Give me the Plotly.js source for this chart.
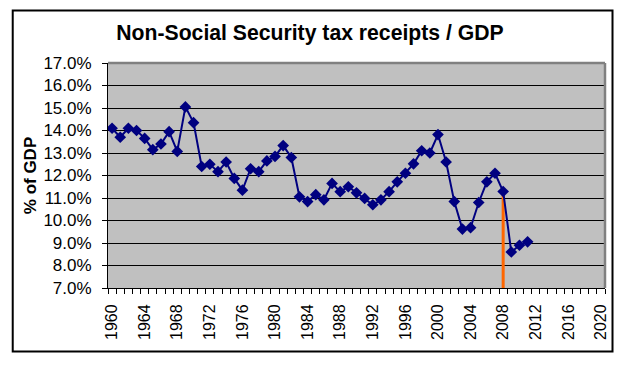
<!DOCTYPE html>
<html>
<head>
<meta charset="utf-8">
<script src="https://cdn.plot.ly/plotly-3.0.1.min.js"></script>
<style>html,body{margin:0;padding:0;background:#fff;}#chart{width:633px;height:365px;}</style>
</head>
<body>
<div id="chart"></div>
<script>
const years = [1960,1961,1962,1963,1964,1965,1966,1967,1968,1969,
  1970,1971,1972,1973,1974,1975,1976,1977,1978,1979,
  1980,1981,1982,1983,1984,1985,1986,1987,1988,1989,
  1990,1991,1992,1993,1994,1995,1996,1997,1998,1999,
  2000,2001,2002,2003,2004,2005,2006,2007,2008,2009,
  2010,2011];
const receiptsPctGDP = [14.1,13.7,14.1,14.0,13.65,13.15,13.4,13.95,13.07,15.05,
  14.35,12.4,12.5,12.17,12.6,11.87,11.35,12.3,12.17,12.65,
  12.85,13.33,12.8,11.05,10.84,11.15,10.92,11.65,11.28,11.5,
  11.23,10.98,10.7,10.92,11.28,11.72,12.1,12.52,13.1,13.0,
  13.82,12.6,10.84,9.62,9.68,10.8,11.72,12.1,11.29,8.6,
  8.9,9.05];
const markerYear = [2008, 2008];
const markerLine = [7.0, 11.29];
const xTickYears = [1960,1964,1968,1972,1976,1980,1984,1988,1992,1996,2000,2004,2008,2012,2016,2020];
const xTickLabels = ['1960','1964','1968','1972','1976','1980','1984','1988','1992','1996','2000','2004','2008','2012','2016','2020'];
const yTickVals = [7,8,9,10,11,12,13,14,15,16,17];
const yTickLabels = ['7.0%','8.0%','9.0%','10.0%','11.0%','12.0%','13.0%','14.0%','15.0%','16.0%','17.0%'];

const FONT = '"Liberation Sans", Arial, sans-serif';

const traces = [
  {x: markerYear, y: markerLine, type: 'scatter', mode: 'lines',
   line: {color: '#FF6600', width: 3}, hoverinfo: 'skip', showlegend: false},
  {x: years, y: receiptsPctGDP, type: 'scatter', mode: 'lines+markers',
   line: {color: '#000080', width: 2},
   marker: {symbol: 'diamond', size: 9, color: '#000080', line: {width: 0}},
   showlegend: false}
];

const layout = {
  width: 633, height: 365,
  margin: {l: 108, r: 28, t: 63, b: 77, pad: 0},
  paper_bgcolor: '#ffffff',
  plot_bgcolor: '#C0C0C0',
  font: {family: FONT, color: '#000'},
  title: {text: '<b>Non-Social Security tax receipts / GDP</b>',
    font: {family: FONT, size: 21.2, color: '#000'},
    xref: 'container', x: 0.4897, xanchor: 'center',
    yref: 'container', y: 0.9096, yanchor: 'middle'},
  xaxis: {
    range: [1959.5, 2020.5], fixedrange: true,
    tickmode: 'array', tickvals: xTickYears, ticktext: xTickLabels,
    ticks: '', tickangle: -90,
    tickfont: {family: FONT, size: 16, color: '#000'},
    ticklabelstandoff: 9,
    showgrid: false, zeroline: false,
    showline: true, linecolor: '#000', linewidth: 1,
    minor: {tickmode: 'linear', tick0: 1959.5, dtick: 1, ticks: 'outside',
      ticklen: 5, tickcolor: '#000', tickwidth: 1, showgrid: false}
  },
  yaxis: {
    range: [7, 17], fixedrange: true,
    tickmode: 'array', tickvals: yTickVals, ticktext: yTickLabels,
    ticks: 'outside', ticklen: 5, tickcolor: '#000', tickwidth: 1,
    tickfont: {family: FONT, size: 17, color: '#000'},
    ticklabelstandoff: 7,
    showgrid: true, gridcolor: '#000', gridwidth: 1,
    zeroline: false,
    showline: true, linecolor: '#000', linewidth: 1,
    title: {text: '<b>% of GDP</b>', font: {family: FONT, size: 17, color: '#000'}, standoff: 2}
  },
  shapes: [
    {type: 'line', xref: 'paper', yref: 'paper', x0: 0, x1: 1, y0: 1, y1: 1,
     line: {color: '#808080', width: 2.5}, layer: 'above'},
    {type: 'line', xref: 'paper', yref: 'paper', x0: 1, x1: 1, y0: 0, y1: 1,
     line: {color: '#808080', width: 2.5}, layer: 'above'},
    {type: 'rect', xref: 'paper', yref: 'paper',
     x0: -0.1917, x1: 1.0151, y0: -0.2822, y1: 1.2331,
     line: {color: '#000', width: 2}, fillcolor: 'rgba(0,0,0,0)', layer: 'above'}
  ]
};

Plotly.newPlot('chart', traces, layout, {displayModeBar: false, staticPlot: true});
</script>
</body>
</html>
